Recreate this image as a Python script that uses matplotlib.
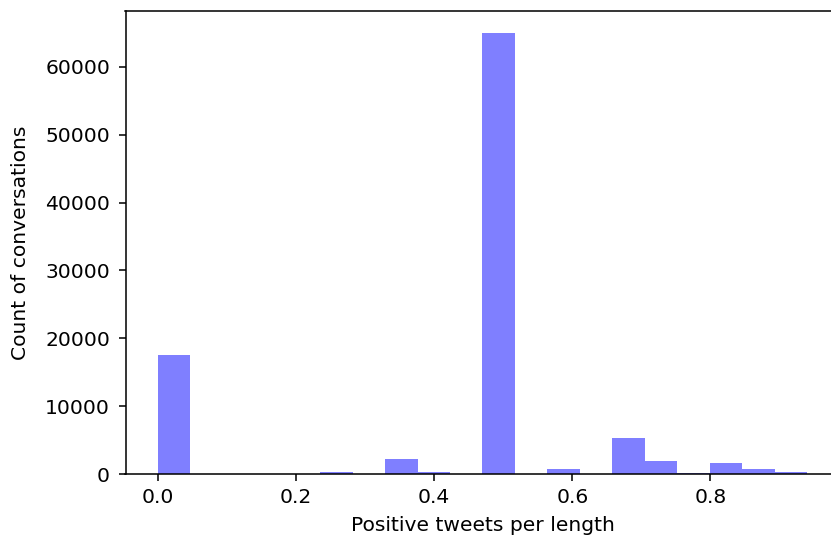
import matplotlib
matplotlib.use("Agg")
import matplotlib.pyplot as plt
import numpy as np

# 20 equal-width bins over the observed range of the ratio
bin_edges = np.linspace(0.0, 0.94, 21)
counts = [17500, 0, 0, 0, 0, 300, 0, 2200, 300, 0,
          65000, 0, 700, 0, 5300, 1900, 200, 1600, 700, 300]

plt.rcParams["font.size"] = 10.5

DPI = 139
fig = plt.figure(figsize=(831 / DPI, 540 / DPI), dpi=DPI)
ax = fig.add_axes([125.5 / 831, 66 / 540, 714 / 831, 463 / 540])

ax.hist(bin_edges[:-1], bins=bin_edges, weights=counts, color="blue", alpha=0.5)
ax.tick_params(axis="y", pad=4.5)
ax.set_xlabel("Positive tweets per length", labelpad=5)
ax.set_ylabel("Count of conversations", labelpad=8)

fig.savefig("out.png", dpi=DPI)
plt.close(fig)
